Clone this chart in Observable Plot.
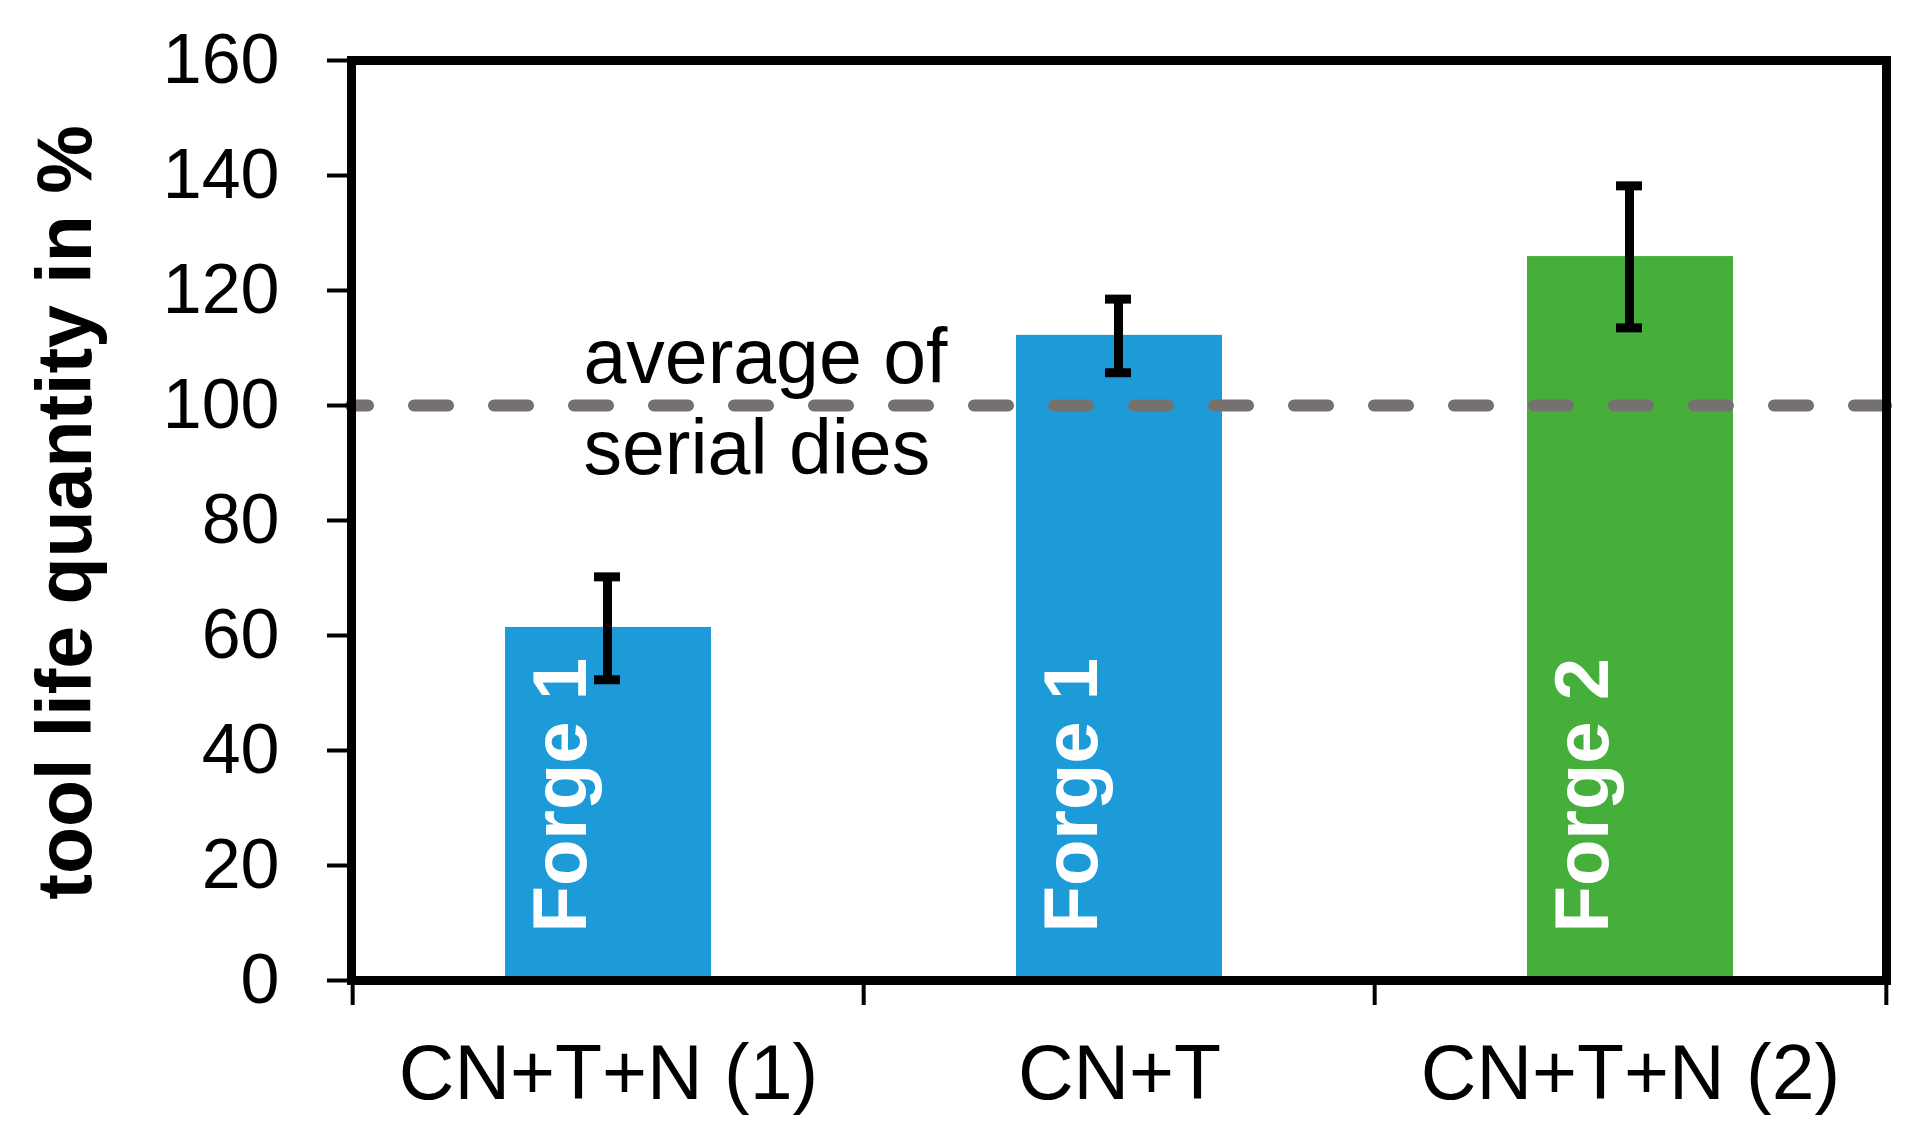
<!DOCTYPE html>
<html>
<head>
<meta charset="utf-8">
<script src="https://cdn.jsdelivr.net/npm/d3@7"></script>
<script src="https://cdn.jsdelivr.net/npm/@observablehq/plot@0.6"></script>
<style>
  html, body { margin: 0; padding: 0; background: #ffffff; }
  #chart svg { display: block; }
</style>
</head>
<body>
<div id="chart"></div>
<script>
// ---- data ----
const categories = ["CN+T+N (1)", "CN+T", "CN+T+N (2)"];
const values = [61.4, 112.2, 125.9];
const errLow = [52.3, 105.7, 113.5];
const errHigh = [70.2, 118.5, 138.2];
const forges = ["Forge 1", "Forge 1", "Forge 2"];
const forgeDomain = ["Forge 1", "Forge 2"];
const forgeColors = ["#1d9bd9", "#46af3c"];
const yTicks = [0, 20, 40, 60, 80, 100, 120, 140, 160];
const referenceValue = [100];
const referenceLabel = ["average of\nserial dies"];
const yTitle = ["tool life quantity in %"];

const data = categories.map((c, i) => ({
  category: c, value: values[i], low: errLow[i], high: errHigh[i], forge: forges[i]
}));

const W = 1912, H = 1143;
const mL = 351, mR = 26, mT = 60, mB = 163;
const step = (W - mL - mR) / categories.length;
const font = "'Liberation Sans', Arial, Helvetica, sans-serif";

const chart = Plot.plot({
  width: W,
  height: H,
  marginLeft: mL,
  marginRight: mR,
  marginTop: mT,
  marginBottom: mB,
  style: { fontFamily: font, background: "white", color: "black", overflow: "visible" },
  x: { domain: categories, paddingInner: 0.597, paddingOuter: 0.2985, label: null },
  y: { domain: [0, 160], label: null },
  color: { domain: forgeDomain, range: forgeColors },
  marks: [
    Plot.barY(data, { x: "category", y: "value", fill: "forge" }),
    Plot.ruleY(referenceValue, {
      y: d => d, stroke: "#767171", strokeWidth: 12,
      strokeDasharray: "34,46", strokeDashoffset: 17, strokeLinecap: "round"
    }),
    Plot.text(data, {
      x: "category", y: 0, text: "forge", rotate: -90,
      textAnchor: "start", lineAnchor: "bottom",
      fill: "white", fontWeight: "bold", fontSize: 76, dx: -23, dy: -48
    }),
    Plot.ruleX(data, { x: "category", y1: "low", y2: "high", stroke: "black", strokeWidth: 9, dx: -1 }),
    Plot.tickY(data, { x: "category", y: "low", stroke: "black", strokeWidth: 9, insetLeft: 90, insetRight: 90, dx: -1 }),
    Plot.tickY(data, { x: "category", y: "high", stroke: "black", strokeWidth: 9, insetLeft: 90, insetRight: 90, dx: -1 }),
    Plot.text(referenceLabel, {
      x: () => categories[0], y: () => referenceValue[0], text: d => d,
      textAnchor: "start", lineAnchor: "bottom", lineHeight: 1.18,
      fontSize: 77, fill: "black", dx: -25, dy: 68
    }),
    Plot.axisY({ ticks: yTicks, tickSize: 24, tickPadding: 48, fontSize: 70, strokeWidth: 4, label: null }),
    Plot.axisX({ tickSize: 0, tickPadding: 64, fontSize: 77, label: null }),
    Plot.ruleX(categories, { x: d => d, y1: 0, y2: 0, insetBottom: -25, stroke: "black", strokeWidth: 4, dx: -step / 2 }),
    Plot.ruleX(categories.slice(-1), { x: d => d, y1: 0, y2: 0, insetBottom: -25, stroke: "black", strokeWidth: 4, dx: step / 2 }),
    Plot.frame({ stroke: "black", strokeWidth: 9 }),
    Plot.text(yTitle, {
      frameAnchor: "left", text: d => d, rotate: -90,
      textAnchor: "middle", lineAnchor: "bottom",
      fontWeight: "bold", fontSize: 77, fill: "black", dx: -261, dy: -8
    })
  ]
});

document.getElementById("chart").appendChild(chart);
</script>
</body>
</html>
